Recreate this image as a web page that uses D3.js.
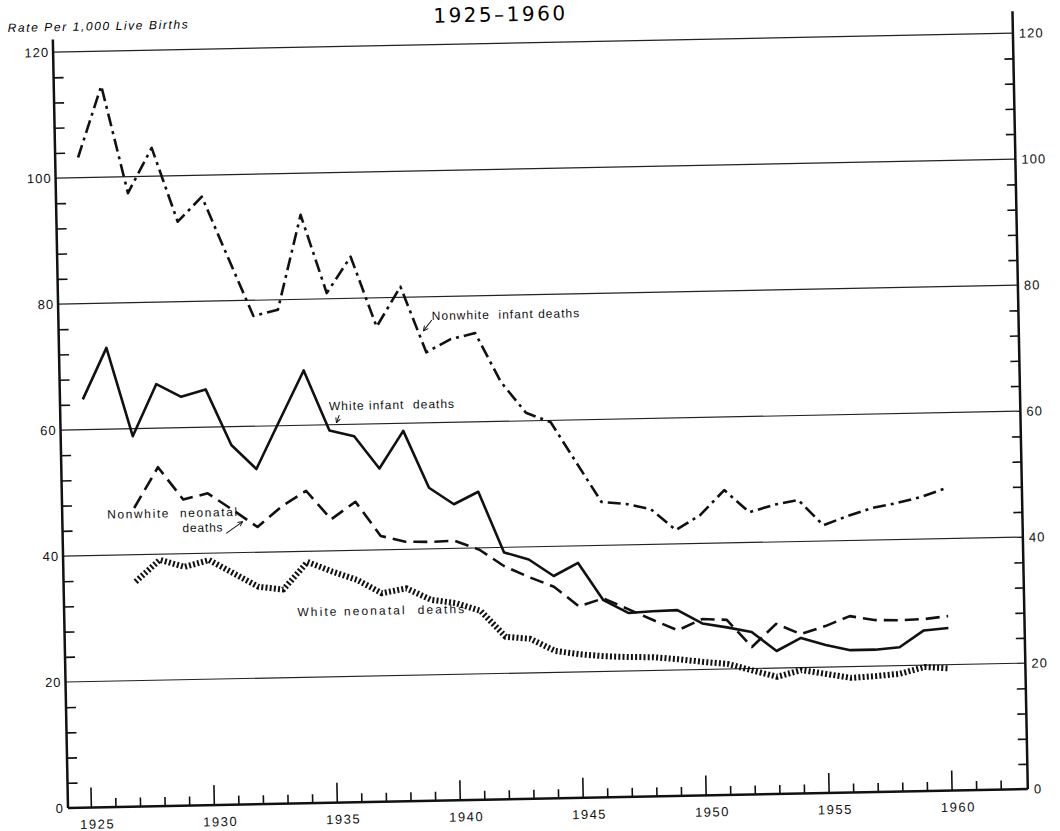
<!DOCTYPE html>
<html>
<head>
<meta charset="utf-8">
<script src="https://cdn.jsdelivr.net/npm/d3@7"></script>
<style>
  body { margin: 0; background: #fff; }
  svg { display: block; font-family: "Liberation Sans", Arial, sans-serif; }
</style>
</head>
<body>
<svg id="chart"></svg>
<script>
// rates per 1,000 live births
const infantYears = d3.range(1925, 1961);
const neonatalYears = d3.range(1927, 1961);

const nonwhiteInfant = [103.2, 114.5, 97.4, 104.5, 92.7, 96.6, 87.0, 77.5, 78.4, 93.4,
  80.9, 86.6, 75.4, 81.7, 71.2, 73.2, 74.1, 66.3, 61.3, 59.7,
  53.3, 46.9, 46.5, 45.6, 42.2, 44.5, 48.4, 44.8, 45.9, 46.6,
  42.5, 43.9, 45.1, 45.8, 46.7, 48.0];
const whiteInfant = [64.8, 72.9, 58.8, 67.0, 64.9, 66.0, 57.1, 53.2, 61.0, 68.7,
  59.1, 58.1, 52.9, 58.8, 49.7, 47.0, 48.9, 39.2, 38.0, 35.3,
  37.3, 31.3, 29.2, 29.4, 29.5, 27.3, 26.6, 25.8, 22.7, 24.7,
  23.5, 22.6, 22.6, 22.9, 25.5, 25.8];
const nonwhiteNeonatal = [47.4, 53.8, 48.6, 49.5, 46.8, 44.0, 47.2, 49.6, 45.0, 47.7,
  42.2, 41.2, 41.1, 41.2, 39.7, 37.0, 35.2, 33.6, 30.4, 31.6,
  29.8, 28.0, 26.3, 28.0, 27.8, 23.4, 27.0, 25.3, 26.5, 28.0,
  27.3, 27.2, 27.3, 27.7];
const whiteNeonatal = [35.7, 39.1, 37.9, 38.9, 36.7, 34.5, 34.0, 38.3, 36.7, 35.3,
  33.1, 33.8, 31.9, 31.3, 30.0, 25.8, 25.4, 23.4, 22.8, 22.4,
  22.2, 22.1, 21.7, 21.2, 20.8, 19.7, 18.6, 19.6, 18.9, 18.2,
  18.4, 18.7, 19.7, 19.4];

const gridValues = [20, 40, 60, 80, 100, 120];
const axisLabels = [0, 20, 40, 60, 80, 100, 120];
const minorValues = d3.range(4, 120, 4).filter(v => v % 20 !== 0);
const yearTicks = d3.range(1925, 1963);
const yearLabels = d3.range(1925, 1961, 5);

const width = 1060, height = 831;
const W = 960, H = 756;

const svg = d3.select('#chart')
  .attr('width', width)
  .attr('height', height);

// the scanned page is slightly tilted
const g = svg.append('g')
  .attr('transform', `translate(68,808) rotate(-1.13) translate(0,${-H})`);

const x = d3.scaleLinear().domain([1924.07, 1963.1]).range([0, W]);
const y = d3.scaleLinear().domain([0, 120]).range([H, 0]);

// title and unit
g.append('text')
  .attr('x', 448).attr('y', -22)
  .attr('text-anchor', 'middle')
  .style('font-family', '"DejaVu Sans", sans-serif')
  .style('font-size', '20px')
  .style('letter-spacing', '2.5px')
  .text('1925–1960');

g.append('text')
  .attr('x', -45).attr('y', -21)
  .style('font-size', '12px')
  .style('font-style', 'italic')
  .style('letter-spacing', '1.6px')
  .text('Rate Per 1,000 Live Births');

// grid lines
g.append('g').selectAll('line')
  .data(gridValues)
  .enter().append('line')
  .attr('x1', 0).attr('x2', W)
  .attr('y1', d => y(d)).attr('y2', d => y(d))
  .attr('stroke', '#222')
  .attr('stroke-width', 1.2);

// axis lines
g.append('line')
  .attr('x1', 0).attr('x2', W)
  .attr('y1', y(0)).attr('y2', y(0))
  .attr('stroke', '#111').attr('stroke-width', 2.5);
g.append('line')
  .attr('x1', 0).attr('x2', 0)
  .attr('y1', y(0)).attr('y2', y(122))
  .attr('stroke', '#111').attr('stroke-width', 2.5);
g.append('line')
  .attr('x1', W).attr('x2', W)
  .attr('y1', y(0)).attr('y2', y(123.5))
  .attr('stroke', '#111').attr('stroke-width', 2.5);

const cleanAxis = sel => {
  sel.select('.domain').remove();
  sel.selectAll('line').attr('stroke', '#111').attr('stroke-width', 1.6);
  sel.selectAll('text').attr('fill', '#111').style('font-size', '13px').style('letter-spacing', '1px');
};

// left axis: minor ticks inward, labels outside
g.append('g')
  .call(d3.axisRight(y).tickValues(minorValues).tickSize(10).tickFormat(''))
  .call(cleanAxis);
g.append('g')
  .call(d3.axisLeft(y).tickValues(axisLabels).tickSize(0).tickPadding(4))
  .call(cleanAxis);

// right axis
g.append('g')
  .attr('transform', `translate(${W},0)`)
  .call(d3.axisLeft(y).tickValues(minorValues).tickSize(9).tickFormat(''))
  .call(cleanAxis);
g.append('g')
  .attr('transform', `translate(${W},0)`)
  .call(d3.axisRight(y).tickValues(axisLabels).tickSize(0).tickPadding(6))
  .call(cleanAxis);

// year ticks point up from the base line
g.append('g')
  .attr('transform', `translate(0,${H})`)
  .call(d3.axisTop(x).tickValues(yearTicks.filter(d => d % 5 !== 0)).tickSize(9).tickFormat(''))
  .call(cleanAxis);
g.append('g')
  .attr('transform', `translate(0,${H})`)
  .call(d3.axisTop(x).tickValues(yearTicks.filter(d => d % 5 === 0)).tickSize(20).tickFormat(''))
  .call(cleanAxis);
g.append('g')
  .attr('transform', `translate(0,${H})`)
  .call(d3.axisBottom(x).tickValues(yearLabels).tickSize(0).tickPadding(12).tickFormat(d3.format('d')))
  .call(cleanAxis)
  .selectAll('text')
  .attr('dx', 6)
  .style('letter-spacing', '1.5px');

// series
const line = d3.line()
  .x(d => x(d.year))
  .y(d => y(d.value));

const series = [
  { name: 'nonwhiteInfant', years: infantYears, values: nonwhiteInfant, dash: '13,5,3,5', w: 2.6 },
  { name: 'whiteInfant', years: infantYears, values: whiteInfant, dash: null, w: 2.6 },
  { name: 'nonwhiteNeonatal', years: neonatalYears, values: nonwhiteNeonatal, dash: '14,7', w: 2.6 },
  { name: 'whiteNeonatal', years: neonatalYears, values: whiteNeonatal, dash: '2,2.2', w: 6 }
];

series.forEach(s => {
  g.append('path')
    .datum(s.years.map((yr, i) => ({ year: yr, value: s.values[i] })))
    .attr('class', 'line ' + s.name)
    .attr('fill', 'none')
    .attr('stroke', '#111')
    .attr('stroke-width', s.w)
    .attr('stroke-dasharray', s.dash)
    .attr('stroke-linejoin', 'round')
    .attr('d', line);
});

// series labels, placed in data units
const labels = [
  { text: 'Nonwhite  infant deaths', year: 1939.25, value: 76.3, spacing: 1.0 },
  { text: 'White infant  deaths', year: 1935.0, value: 62.3, spacing: 1.0 },
  { text: 'Nonwhite  neonatal', year: 1925.9, value: 45.8, spacing: 1.6 },
  { text: 'deaths', year: 1928.95, value: 43.4, spacing: 0.8 },
  { text: 'White neonatal  deaths', year: 1933.55, value: 29.7, spacing: 2.1 }
];

g.append('g').selectAll('text')
  .data(labels)
  .enter().append('text')
  .attr('x', d => x(d.year))
  .attr('y', d => y(d.value))
  .style('font-size', '12px')
  .style('letter-spacing', d => d.spacing + 'px')
  .style('white-space', 'pre')
  .attr('fill', '#111')
  .text(d => d.text);

svg.append('defs').append('marker')
  .attr('id', 'head')
  .attr('viewBox', '0 0 10 10')
  .attr('refX', 9).attr('refY', 5)
  .attr('markerWidth', 6).attr('markerHeight', 6)
  .attr('orient', 'auto')
  .append('path')
  .attr('d', 'M1,1 L9,5 L1,9')
  .attr('fill', 'none')
  .attr('stroke', '#111')
  .attr('stroke-width', 1.5);

const arrows = [
  { from: [1939.25, 76.3], to: [1938.9, 74.6] },
  { from: [1935.41, 61.5], to: [1935.29, 60.3] },
  { from: [1930.72, 43.1], to: [1931.4, 44.9] }
];

g.append('g').selectAll('line')
  .data(arrows)
  .enter().append('line')
  .attr('x1', d => x(d.from[0])).attr('y1', d => y(d.from[1]))
  .attr('x2', d => x(d.to[0])).attr('y2', d => y(d.to[1]))
  .attr('stroke', '#111')
  .attr('stroke-width', 1)
  .attr('marker-end', 'url(#head)');
</script>
</body>
</html>
